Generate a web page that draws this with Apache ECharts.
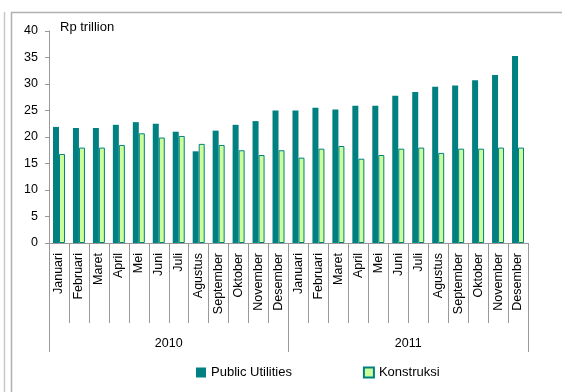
<!DOCTYPE html>
<html>
<head>
<meta charset="utf-8">
<script src="https://cdn.jsdelivr.net/npm/echarts@6/dist/echarts.min.js"></script>
<style>
  html, body { margin: 0; padding: 0; background: #fff; }
  #chart { width: 562px; height: 392px; }
</style>
</head>
<body>
<div id="chart"></div>
<script>
const months = ['Januari', 'Februari', 'Maret', 'April', 'Mei', 'Juni', 'Juli', 'Agustus',
  'September', 'Oktober', 'November', 'Desember'];
const years = ['2010', '2011'];
const categories = years.map(y => months.map(m => m + ' ' + y)).flat();

// Rp trillion
const publicUtilities = [21.9, 21.7, 21.7, 22.3, 22.8, 22.5, 21.0, 17.3, 21.2, 22.3, 23.0, 25.0,
  25.0, 25.5, 25.2, 25.9, 25.9, 27.8, 28.5, 29.5, 29.7, 30.7, 31.7, 35.3];
const konstruksi = [16.8, 18.0, 18.0, 18.5, 20.7, 19.9, 20.2, 18.7, 18.5, 17.5, 16.6, 17.5,
  16.1, 17.8, 18.3, 15.9, 16.6, 17.8, 18.0, 17.0, 17.8, 17.8, 18.0, 18.0];

const font = '"Liberation Sans Narrow", "Liberation Sans", sans-serif';
const chart = echarts.init(document.getElementById('chart'));

chart.setOption({
  animation: false,
  textStyle: {fontFamily: font},
  grid: {left: 49, right: 34, top: 31, bottom: 149},
  graphic: [
    {type: 'line', shape: {x1: 4.5, y1: 12, x2: 4.5, y2: 392}, style: {stroke: '#c8c8c8', lineWidth: 1.5}},
    {type: 'polyline', shape: {points: [[11.5, 392], [11.5, 12.5], [562, 12.5]]},
      style: {stroke: '#b0b0b0', lineWidth: 1.5, fill: null}},
    {type: 'text', left: 60, top: 21, style: {text: 'Rp trillion', font: '13px ' + font, fill: '#000'}}
  ],
  legend: {
    bottom: 8,
    left: 191,
    itemWidth: 10,
    itemHeight: 10,
    itemGap: 71,
    icon: 'rect',
    textStyle: {fontSize: 13, color: '#000', fontFamily: font},
    data: ['Public Utilities', 'Konstruksi']
  },
  xAxis: [
    {
      type: 'category',
      data: categories,
      axisLine: {show: true, lineStyle: {color: '#999'}},
      axisTick: {show: true, length: 80, lineStyle: {color: '#999'}},
      axisLabel: {
        rotate: 90,
        margin: 10,
        fontSize: 12.5,
        color: '#000',
        interval: 0,
        formatter: v => v.split(' ')[0]
      }
    },
    {
      type: 'category',
      position: 'bottom',
      data: years,
      axisLine: {show: true, lineStyle: {color: '#999'}},
      axisTick: {show: true, length: 109, lineStyle: {color: '#999'}},
      axisLabel: {margin: 94, fontSize: 12.5, color: '#000'}
    }
  ],
  yAxis: {
    type: 'value',
    min: 0,
    max: 40,
    interval: 5,
    splitLine: {show: false},
    axisLine: {show: true, lineStyle: {color: '#999'}},
    axisTick: {show: true, length: 4, lineStyle: {color: '#999'}},
    axisLabel: {fontSize: 12.5, color: '#000', margin: 11}
  },
  series: [
    {
      name: 'Public Utilities',
      type: 'bar',
      data: publicUtilities,
      barWidth: 6,
      barGap: '0%',
      itemStyle: {color: '#008080'}
    },
    {
      name: 'Konstruksi',
      type: 'bar',
      data: konstruksi,
      barWidth: 6,
      itemStyle: {color: '#CCFF99', borderColor: '#008080', borderWidth: 1}
    }
  ]
});
</script>
</body>
</html>
